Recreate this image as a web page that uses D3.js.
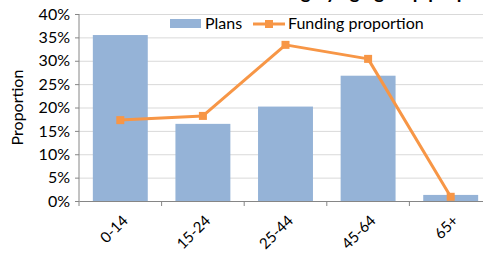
<!DOCTYPE html>
<html>
<head>
<meta charset="utf-8">
<style>
  body { margin: 0; background: #fff; }
  svg { display: block; font-family: Lato, "Open Sans", sans-serif; }
  .grid line { stroke: #d9d9d9; stroke-width: 1; }
  .grid .domain { display: none; }
</style>
</head>
<body>
<svg width="483" height="254"></svg>
<script src="https://d3js.org/d3.v7.min.js"></script>
<script>
var ageGroups = ["0-14", "15-24", "25-44", "45-64", "65+"];
var plans = [0.355, 0.165, 0.202, 0.268, 0.013];
var funding = [0.173, 0.182, 0.334, 0.304, 0.009];
var yTicks = [0, 0.05, 0.10, 0.15, 0.20, 0.25, 0.30, 0.35, 0.40];

var svg = d3.select("svg"),
    margin = {top: 14, left: 79},
    width = 413,
    height = 187,
    g = svg.append("g").attr("transform", "translate(" + margin.left + "," + margin.top + ")");

var x = d3.scaleBand().domain(ageGroups).range([0, width]).paddingInner(0.335).paddingOuter(0.1675);
var xt = d3.scaleBand().domain(ageGroups).range([0, width]);
var y = d3.scaleLinear().domain([0, 0.4]).range([height, 0]);

// title (clipped at the top of the picture)
svg.append("text")
    .attr("x", 340).attr("y", -1)
    .attr("text-anchor", "middle")
    .attr("font-size", 19).attr("font-weight", "bold")
    .attr("fill", "#000")
    .text("Plans and funding by age group proportion");

// gridlines
g.append("g")
    .attr("class", "grid")
    .call(d3.axisLeft(y).tickValues(yTicks).tickSize(-width).tickFormat(""));

// bars
g.append("g").selectAll("rect")
    .data(plans)
    .enter().append("rect")
    .attr("x", function(d, i) { return x(ageGroups[i]); })
    .attr("y", function(d) { return y(d); })
    .attr("width", x.bandwidth())
    .attr("height", function(d) { return height - y(d); })
    .attr("fill", "#95b3d7");

// funding line
var line = d3.line()
    .x(function(d, i) { return xt(ageGroups[i]) + xt.bandwidth() / 2; })
    .y(function(d) { return y(d); });

g.append("path")
    .datum(funding)
    .attr("d", line)
    .attr("fill", "none")
    .attr("stroke", "#f79646")
    .attr("stroke-width", 3)
    .attr("stroke-linejoin", "round");

g.append("g").selectAll("rect")
    .data(funding)
    .enter().append("rect")
    .attr("x", function(d, i) { return xt(ageGroups[i]) + xt.bandwidth() / 2 - 4; })
    .attr("y", function(d) { return y(d) - 4; })
    .attr("width", 8).attr("height", 8)
    .attr("fill", "#f79646");

// y axis
var yAxis = g.append("g")
    .call(d3.axisLeft(y).tickValues(yTicks).tickSize(4).tickPadding(5).tickFormat(d3.format(".0%")));
yAxis.select(".domain").attr("stroke", "#868686").attr("d", "M0,0V" + height);
yAxis.selectAll(".tick line").attr("stroke", "#868686");
yAxis.selectAll("text").attr("font-size", 16).attr("fill", "#000").attr("font-family", "Lato, sans-serif");

// x axis
var xAxis = g.append("g")
    .attr("transform", "translate(0," + height + ")")
    .call(d3.axisBottom(xt).tickSize(0).tickFormat(function(d) { return d; }));
xAxis.select(".domain").attr("stroke", "#868686");
xAxis.selectAll(".tick text")
    .attr("font-size", 15).attr("fill", "#000").attr("font-family", "Lato, sans-serif")
    .attr("text-anchor", "end")
    .attr("transform", "translate(-1,11) rotate(-45)")
    .attr("dy", "0.7em");
xAxis.selectAll(".sep")
    .data(ageGroups)
    .enter().append("line")
    .attr("x1", function(d) { return xt(d); })
    .attr("x2", function(d) { return xt(d); })
    .attr("y1", 0).attr("y2", 5)
    .attr("stroke", "#868686");

// y axis title
svg.append("text")
    .attr("transform", "translate(23," + (margin.top + height / 2) + ") rotate(-90)")
    .attr("text-anchor", "middle")
    .attr("font-size", 16)
    .attr("fill", "#000")
    .text("Proportion");

// legend
var legend = svg.append("g").attr("font-size", 16).attr("fill", "#000");
legend.append("rect")
    .attr("x", 170).attr("y", 19).attr("width", 31).attr("height", 9)
    .attr("fill", "#95b3d7");
legend.append("text").attr("x", 205).attr("y", 29).text("Plans");
legend.append("line")
    .attr("x1", 253).attr("x2", 285).attr("y1", 24).attr("y2", 24)
    .attr("stroke", "#f79646").attr("stroke-width", 3);
legend.append("rect")
    .attr("x", 265).attr("y", 20).attr("width", 8).attr("height", 8)
    .attr("fill", "#f79646");
legend.append("text").attr("x", 288).attr("y", 29).text("Funding proportion");
</script>
</body>
</html>
